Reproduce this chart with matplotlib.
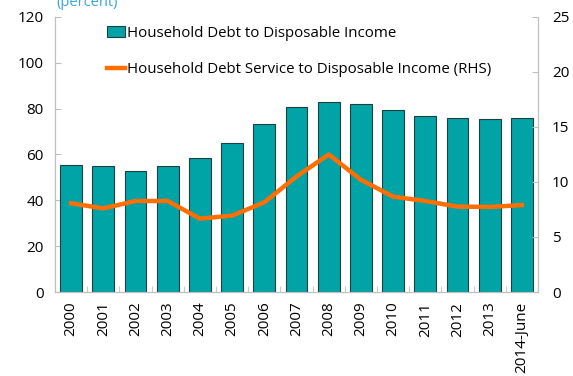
import matplotlib.pyplot as plt
import numpy as np

# ── Data ──────────────────────────────────────────────────────────────────────
YEARS = ["2000", "2001", "2002", "2003", "2004", "2005", "2006", "2007",
         "2008", "2009", "2010", "2011", "2012", "2013", "2014-June"]
DEBT_TO_INCOME = [55.4, 55.0, 52.8, 54.9, 58.4, 64.9, 73.4, 80.6,
                  82.8, 81.8, 79.2, 76.9, 75.8, 75.5, 75.8]
DEBT_SERVICE = [8.06, 7.6, 8.27, 8.27, 6.67, 6.94, 8.15, 10.5,
                12.5, 10.2, 8.67, 8.27, 7.76, 7.73, 7.9]

# ── Style ─────────────────────────────────────────────────────────────────────
TEAL = "#00A3A6"
ORANGE = "#FF6E00"
SPINE = "#BFBFBF"
BLUE_TXT = "#3AA6DD"
plt.rcParams["font.family"] = ["Open Sans", "DejaVu Sans"]

fig = plt.figure(figsize=(5.73, 3.76), dpi=100)
ax = fig.add_axes([0.096, 0.2234, 0.843, 0.7316])
ax2 = ax.twinx()

x = np.arange(len(YEARS))
ax.bar(x, DEBT_TO_INCOME, width=0.68, color=TEAL, edgecolor="#1F3F3F",
       linewidth=0.8, label="Household Debt to Disposable Income", zorder=2)
ax2.plot(x, DEBT_SERVICE, color=ORANGE, lw=3.2, solid_joinstyle="round",
         label="Household Debt Service to Disposable Income (RHS)", zorder=3)

ax.set_xlim(-0.5, len(YEARS) - 0.5)
ax.set_ylim(0, 120)
ax.set_yticks(range(0, 121, 20))
ax2.set_ylim(0, 25)
ax2.set_yticks(range(0, 26, 5))

ax.set_xticks(x, YEARS, rotation=90, fontsize=11)
ax.set_xticks(np.arange(-0.5, len(YEARS), 1), minor=True)
ax.tick_params(axis="x", which="major", length=0, pad=7)
ax.tick_params(axis="x", which="minor", direction="in", length=4, color=SPINE)
ax.tick_params(axis="y", direction="in", length=4, color=SPINE, labelsize=11, pad=8)
ax2.tick_params(axis="y", direction="in", length=4, color=SPINE, labelsize=11, pad=10)

for a in (ax, ax2):
    a.spines["top"].set_visible(False)
    for s in ("left", "right", "bottom"):
        a.spines[s].set_color(SPINE)

ax2.set_zorder(ax.get_zorder() + 1)
ax.patch.set_visible(False)

fig.text(0.099, 0.993, "(percent)", color=BLUE_TXT, fontsize=10.5,
         ha="left", va="center")

h1, l1 = ax.get_legend_handles_labels()
h2, l2 = ax2.get_legend_handles_labels()
ax2.legend(h1 + h2, l1 + l2, loc="upper left", bbox_to_anchor=(0.09, 1.0),
           frameon=False, fontsize=10.8, labelspacing=1.4, handlelength=1.2,
           handletextpad=0.1, borderaxespad=0.2)

fig.savefig("out.png", dpi=100)
